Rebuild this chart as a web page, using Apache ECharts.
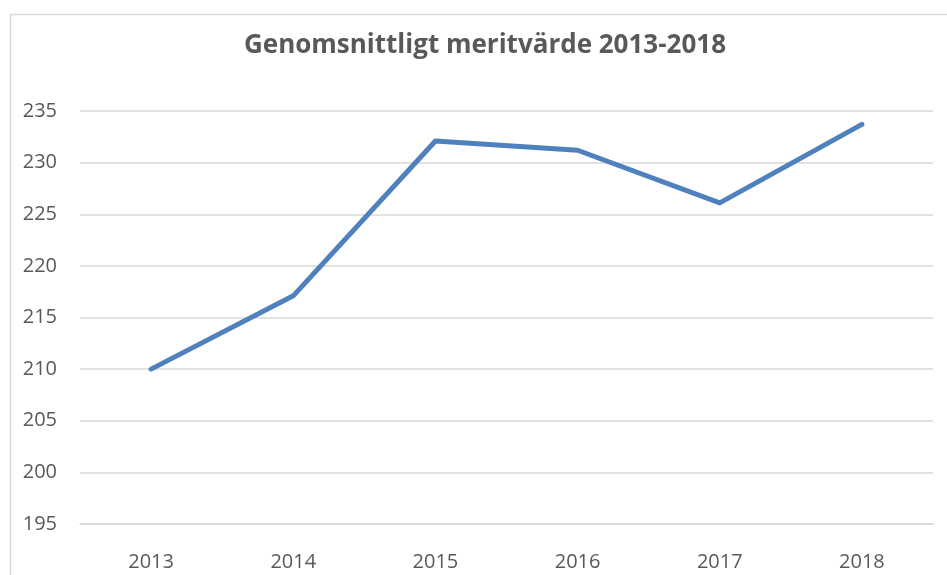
<!DOCTYPE html>
<html>
<head>
<meta charset="utf-8">
<script src="https://cdn.jsdelivr.net/npm/echarts@6/dist/echarts.min.js"></script>
<style>html,body{margin:0;padding:0;background:#fff}#c{width:947px;height:575px}</style>
</head>
<body>
<div id="c"></div>
<script>
const titleText = 'Genomsnittligt meritvärde 2013-2018';
const years = ['2013', '2014', '2015', '2016', '2017', '2018'];
const meritValues = [210.0, 217.1, 232.1, 231.2, 226.1, 233.7];
const yMin = 195, yMax = 235, yStep = 5;

const chart = echarts.init(document.getElementById('c'), null, {renderer: 'canvas'});
chart.setOption({
  animation: false,
  backgroundColor: '#ffffff',
  graphic: [{
    type: 'rect', left: 8, top: 12, z: -10,
    shape: {width: 1000, height: 700},
    style: {fill: 'none', stroke: '#d9d9d9', lineWidth: 1.5}
  }],
  title: {
    text: titleText, left: 480, textAlign: 'center', top: 28,
    textStyle: {fontFamily: 'Open Sans', fontWeight: 'bold', fontSize: 26, color: '#595959'}
  },
  grid: {left: 80, right: 14, top: 111, bottom: 51, containLabel: false},
  xAxis: {
    type: 'category', data: years, boundaryGap: true,
    axisLine: {show: true, lineStyle: {color: '#d9d9d9', width: 1.5}},
    axisTick: {show: false},
    axisLabel: {margin: 28, fontFamily: 'Open Sans', fontSize: 20, color: '#595959'}
  },
  yAxis: {
    type: 'value', min: yMin, max: yMax, interval: yStep,
    axisLine: {show: false}, axisTick: {show: false},
    splitLine: {lineStyle: {color: '#d9d9d9', width: 1.5}},
    axisLabel: {margin: 23, fontFamily: 'Open Sans', fontSize: 20, color: '#595959'}
  },
  series: [{
    type: 'line', data: meritValues, symbol: 'none',
    lineStyle: {color: '#4f81bd', width: 5, cap: 'round', join: 'round'}
  }]
});
</script>
</body>
</html>
